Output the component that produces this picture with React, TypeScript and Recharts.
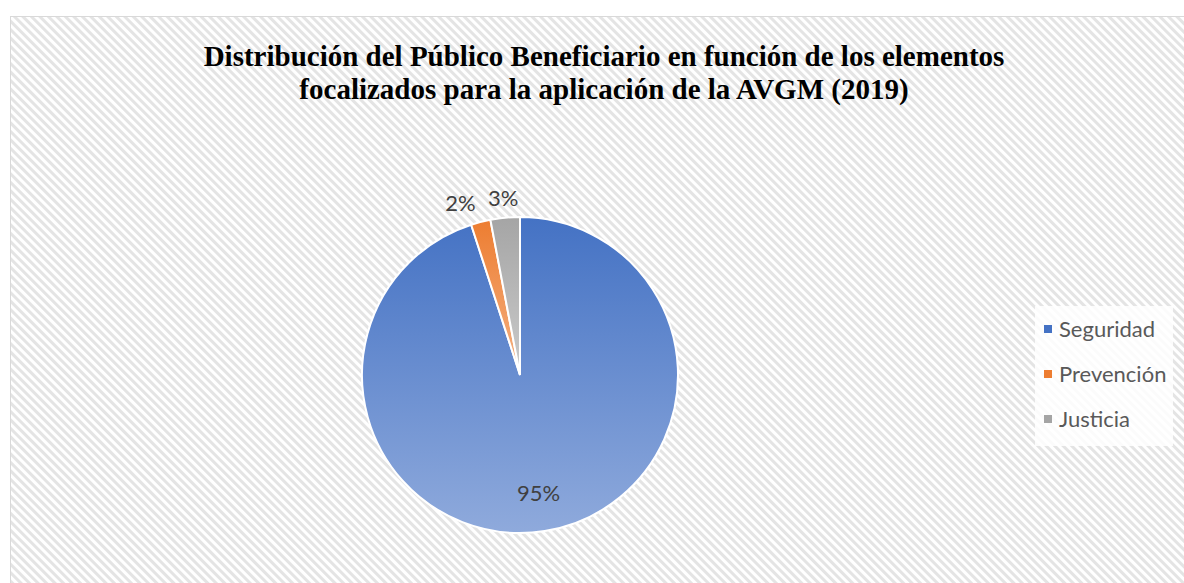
import { Cell, Legend, Pie, PieChart } from "recharts";

const categories = ["Seguridad", "Prevención", "Justicia"];
const shares = [95, 2, 3];
const colorsTop = ["#4472C4", "#ED7D31", "#A5A5A5"];
const colorsBottom = ["#8FAADC", "#F4B183", "#CBCBCB"];
const titleLines = [
  "Distribución del Público Beneficiario en función de los elementos",
  "focalizados para la aplicación de la AVGM (2019)",
];

const data = categories.map((name, i) => ({ name, value: shares[i] }));

const W = 1184;
const H = 583;
const RAD = Math.PI / 180;

function renderLabel(props: any) {
  const { cx, cy, midAngle, outerRadius, percent } = props;
  const big = percent > 0.5;
  const r = big ? outerRadius * 0.75 : outerRadius + 20;
  const cos = Math.cos(-midAngle * RAD);
  const sin = Math.sin(-midAngle * RAD);
  const x = cx + r * cos;
  const y = cy + r * sin;
  const anchor = !big && cos < -0.2 ? "end" : "middle";
  return (
    <text
      x={x}
      y={y}
      textAnchor={anchor}
      dominantBaseline="central"
      fill="#404040"
      fontSize={22}
      fontFamily="Lato, sans-serif"
    >
      {Math.round(percent * 100)}%
    </text>
  );
}

function LegendBox() {
  return (
    <div style={{ fontFamily: "Lato, sans-serif", fontSize: 22, color: "#595959" }}>
      {categories.map((name, i) => (
        <div key={name} style={{ display: "flex", alignItems: "center", height: 45 }}>
          <span
            style={{
              width: 8,
              height: 8,
              marginRight: 7,
              background: colorsTop[i],
              display: "inline-block",
            }}
          />
          <span>{name}</span>
        </div>
      ))}
    </div>
  );
}

export default function App() {
  return (
    <div style={{ position: "absolute", left: 0, top: 0, width: W, height: H, background: "#fff" }}>
      <svg width={W} height={H} style={{ position: "absolute", left: 0, top: 0 }}>
        <defs>
          <pattern
            id="hatch"
            width="6"
            height="6"
            patternUnits="userSpaceOnUse"
            patternTransform="rotate(45)"
          >
            <rect width="6" height="6" fill="#ffffff" />
            <rect width="6" height="3" fill="#e4e4e4" />
          </pattern>
        </defs>
        <rect x={10.5} y={16.5} width={W} height={H} fill="url(#hatch)" stroke="#d9d9d9" />
        <rect x={1035} y={306} width={138} height={140} fill="#fff" fillOpacity={0.85} />
        <text
          x={604}
          y={56}
          textAnchor="middle"
          dominantBaseline="central"
          fontFamily="'Liberation Serif', serif"
          fontWeight="bold"
          fontSize={29}
          fill="#000"
        >
          <tspan x={604} dy={0}>{titleLines[0]}</tspan>
          <tspan x={604} dy={33}>{titleLines[1]}</tspan>
        </text>
      </svg>
      <div style={{ position: "absolute", left: 0, top: 0 }}>
        <PieChart width={W} height={H} margin={{ top: 0, right: 0, bottom: 0, left: 0 }}>
          <defs>
            {colorsTop.map((c, i) => (
              <linearGradient key={c} id={`grad${i}`} x1="0" y1="0" x2="0" y2="1">
                <stop offset="0%" stopColor={c} />
                <stop offset="100%" stopColor={colorsBottom[i]} />
              </linearGradient>
            ))}
          </defs>
          <Pie
            data={data}
            dataKey="value"
            nameKey="name"
            cx={520}
            cy={375}
            outerRadius={158}
            startAngle={90}
            endAngle={-270}
            stroke="#ffffff"
            strokeWidth={2}
            label={renderLabel}
            labelLine={false}
            isAnimationActive={false}
          >
            {data.map((d, i) => (
              <Cell key={d.name} fill={`url(#grad${i})`} />
            ))}
          </Pie>
          <Legend
            layout="vertical"
            align="right"
            verticalAlign="top"
            content={<LegendBox />}
            wrapperStyle={{ left: 1044, top: 306, width: 140 }}
          />
        </PieChart>
      </div>
    </div>
  );
}
